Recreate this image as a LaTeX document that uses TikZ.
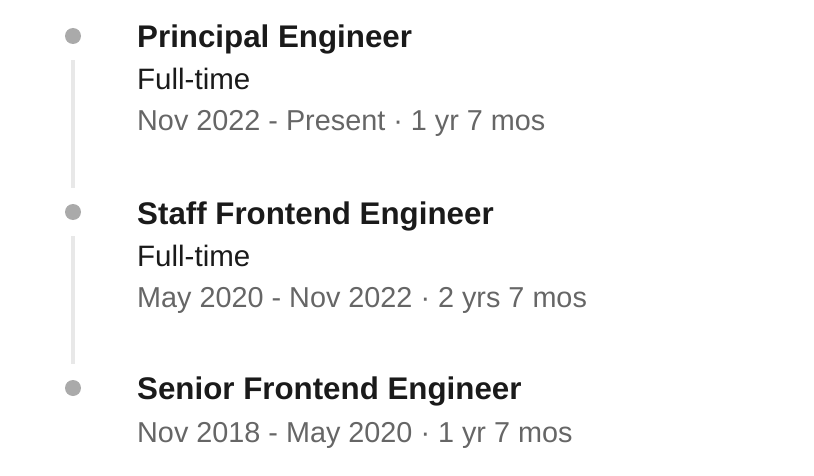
\documentclass[tikz,border=0pt]{standalone}
\usepackage{fontspec}
\setmainfont{Liberation Sans}
\usetikzlibrary{positioning}

\definecolor{inkgray}{RGB}{26,26,26}
\definecolor{dategray}{RGB}{102,102,102}
\definecolor{dotgray}{RGB}{170,170,170}
\definecolor{railgray}{RGB}{232,232,232}

\tikzset{
  bullet/.style={circle, fill=dotgray, inner sep=0pt, minimum size=16pt},
  rail/.style={draw=railgray, line width=4pt, shorten <=16pt, shorten >=16pt},
  jobtitle/.style={anchor=base west, inner sep=0pt, text=inkgray,
    font=\fontsize{31.3}{37}\selectfont\bfseries},
  jobkind/.style={anchor=base west, inner sep=0pt, text=inkgray,
    font=\fontsize{29.5}{35}\selectfont},
  jobdate/.style={anchor=base west, inner sep=0pt, text=dategray,
    font=\fontsize{28.8}{35}\selectfont},
}

\begin{document}
\begin{tikzpicture}[x=1pt, y=-1pt]
\useasboundingbox (0,0) rectangle (814,476);

\def\xd{73}
\def\xt{137}

\def\ya{48}
\def\yb{224}
\def\yc{399}

\node[bullet] (da) at (\xd, \ya - 12) {};
\node[bullet] (db) at (\xd, \yb - 12) {};
\node[bullet] (dc) at (\xd, \yc - 11) {};

\draw[rail] (da) -- (db);
\draw[rail] (db) -- (dc);

\node[jobtitle] (ta) at (\xt, \ya) {Principal Engineer};
\node[jobkind] (ka) at (\xt, \ya + 42) {Full-time};
\node[jobdate] (pa) at (\xt, \ya + 83) {Nov 2022 - Present · 1 yr 7 mos};

\node[jobtitle] (tb) at (\xt, \yb) {Staff Frontend Engineer};
\node[jobkind] (kb) at (\xt, \yb + 42) {Full-time};
\node[jobdate] (pb) at (\xt, \yb + 83) {May 2020 - Nov 2022 · 2 yrs 7 mos};

\node[jobtitle] (tc) at (\xt, \yc) {Senior Frontend Engineer};
\node[jobdate] (pc) at (\xt, \yc + 43) {Nov 2018 - May 2020 · 1 yr 7 mos};

\end{tikzpicture}
\end{document}
